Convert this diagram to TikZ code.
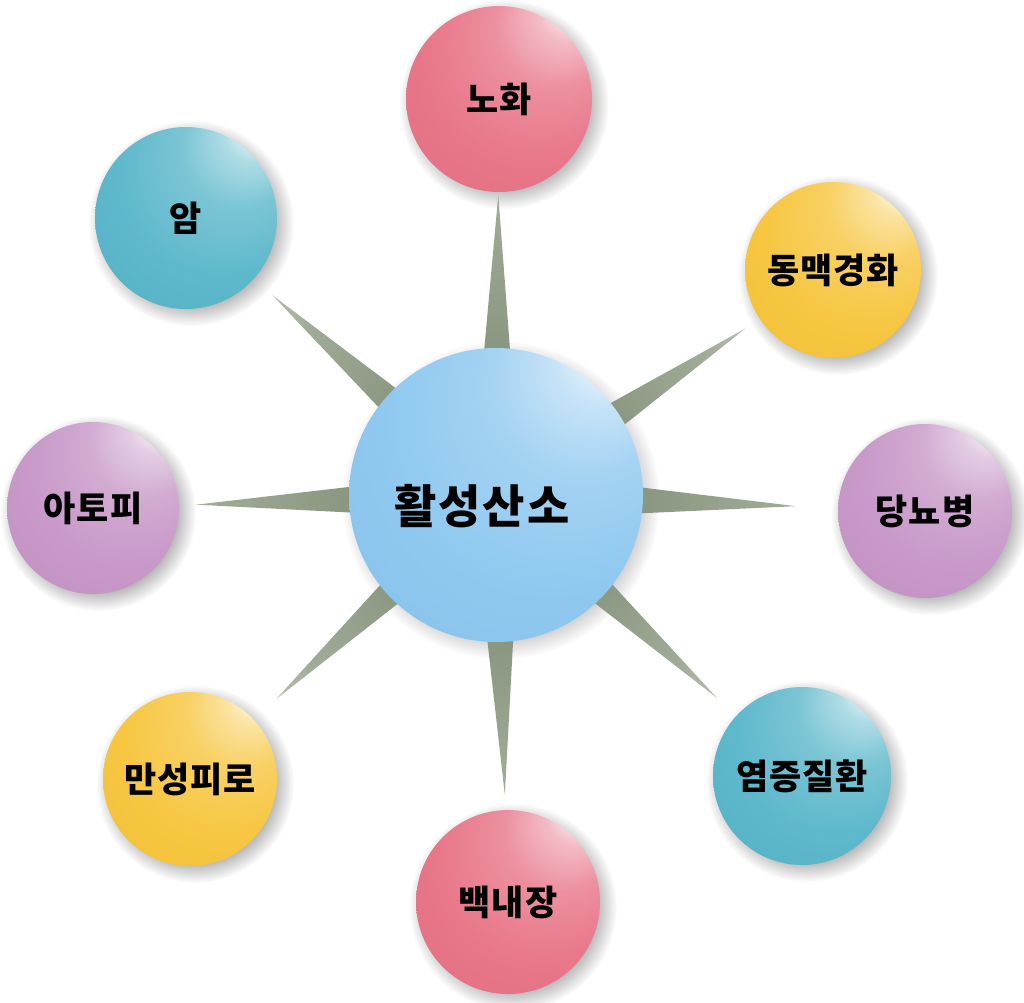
\documentclass[tikz,border=0pt]{standalone}
\usepackage{fontspec}
\newfontfamily\kr{Noto Sans CJK KR}
\usetikzlibrary{calc,fadings}
\definecolor{pinkC}{HTML}{E6697E}
\definecolor{tealC}{HTML}{4DB1C6}
\definecolor{yellC}{HTML}{F6C12E}
\definecolor{purpC}{HTML}{C28EC3}
\definecolor{blueC}{HTML}{84C3EE}
\definecolor{spkD}{HTML}{86937C}
\definecolor{spkM}{HTML}{A1AC98}
\definecolor{spkL}{HTML}{D3D9CD}
\newcommand\mksph[2]{\pgfdeclareradialshading{#1}{\pgfpoint{22bp}{28bp}}{color(0bp)=(white); color(2.5bp)=(white); color(8bp)=(#2!45!white); color(16bp)=(#2!74!white); color(28bp)=(#2!90!white); color(50bp)=(#2!97!black)}}
\mksph{sphpink}{pinkC}
\mksph{sphteal}{tealC}
\mksph{sphyell}{yellC}
\mksph{sphpurp}{purpC}
\mksph{sphblue}{blueC}
\pgfdeclareverticalshading{spikesh}{100bp}{color(0bp)=(spkD); color(45bp)=(spkD); color(75bp)=(spkM); color(100bp)=(spkL)}
\pgfdeclarelayer{bg}
\pgfsetlayers{bg,main}
\begin{document}
\begin{tikzpicture}[x=1pt,y=-1pt,
  ball/.style 2 args={circle, inner sep=0pt, minimum size=#1, shading=#2,
    font=\kr\bfseries\fontsize{35}{42}\selectfont\addfontfeatures{LetterSpace=3}, text=black},
  shadowdisc/.style={black, opacity=0.28, path fading=circle with fuzzy edge 20 percent},
  spikeshape/.style={shading=spikesh, shading angle=#1}]
\useasboundingbox (0,0) rectangle (1024,1002);
% center
\node[ball={294pt}{sphblue}] (c) at (496,495) {};
\node[font=\kr\bfseries\fontsize{46}{54}\selectfont\addfontfeatures{LetterSpace=4}, text=black] (ct) at (482,506) {활성산소};
% outer spheres
\node[ball={186pt}{sphpink}] (n1) at (499,99) {노화};
\node[ball={176pt}{sphyell}] (n2) at (833,270) {동맥경화};
\node[ball={174pt}{sphpurp}] (n3) at (925,511) {당뇨병};
\node[ball={178pt}{sphteal}] (n4) at (802,776) {염증질환};
\node[ball={184pt}{sphpink}] (n5) at (508,902) {백내장};
\node[ball={174pt}{sphyell}] (n6) at (190,779) {만성피로};
\node[ball={172pt}{sphpurp}] (n7) at (93,508) {아토피};
\node[ball={182pt}{sphteal}] (n8) at (186,218) {암};
\begin{pgfonlayer}{bg}
  \fill[white] (0,0) rectangle (1024,1002);
  \foreach \n/\r in {c/147, n1/93, n2/88, n3/87, n4/89, n5/92, n6/87, n7/86, n8/91}
    \fill[shadowdisc] ($(\n)+(5,5)$) circle[radius=\r pt + 12pt];
  \foreach \n/\a in {n1/0, n2/-56.3, n3/-92, n4/-132.6, n5/-178, n6/133, n7/92, n8/48}
    \shade[spikeshape=\a] ($(c)!25pt!90:(\n)$) -- ($(c)!300pt!(\n)$) -- ($(c)!25pt!-90:(\n)$) -- cycle;
\end{pgfonlayer}
\end{tikzpicture}
\end{document}
